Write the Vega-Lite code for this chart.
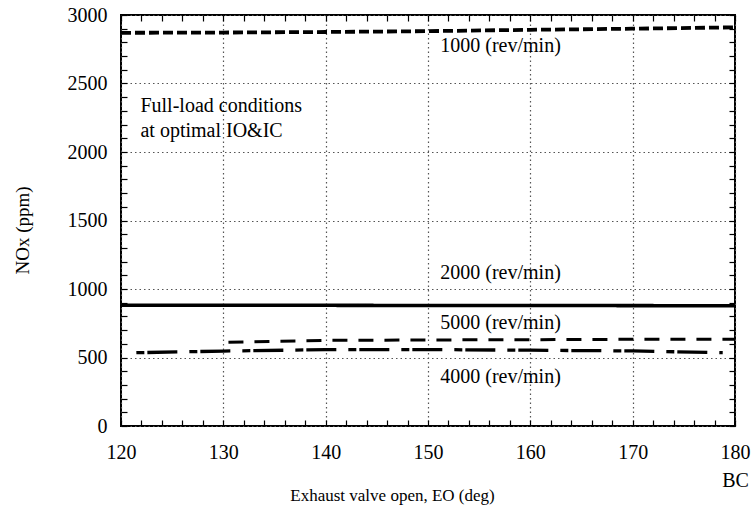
{
  "$schema": "https://vega.github.io/schema/vega-lite/v6.json",
  "autosize": "none",
  "width": 614,
  "height": 411,
  "padding": {"left": 121, "top": 15, "right": 16, "bottom": 87},
  "background": "white",
  "datasets": {
    "curves": [
      {"series": "1000", "eo": 120, "nox": 2870},
      {"series": "1000", "eo": 130, "nox": 2872},
      {"series": "1000", "eo": 140, "nox": 2876},
      {"series": "1000", "eo": 150, "nox": 2882},
      {"series": "1000", "eo": 160, "nox": 2892},
      {"series": "1000", "eo": 170, "nox": 2900},
      {"series": "1000", "eo": 180, "nox": 2910},
      {"series": "2000", "eo": 120, "nox": 882},
      {"series": "2000", "eo": 150, "nox": 880},
      {"series": "2000", "eo": 180, "nox": 878},
      {"series": "5000", "eo": 130.5, "nox": 612},
      {"series": "5000", "eo": 140, "nox": 625},
      {"series": "5000", "eo": 150, "nox": 628},
      {"series": "5000", "eo": 160, "nox": 630},
      {"series": "5000", "eo": 170, "nox": 633},
      {"series": "5000", "eo": 180, "nox": 634},
      {"series": "4000", "eo": 121.5, "nox": 535},
      {"series": "4000", "eo": 130, "nox": 547},
      {"series": "4000", "eo": 140, "nox": 557},
      {"series": "4000", "eo": 150, "nox": 558},
      {"series": "4000", "eo": 160, "nox": 553},
      {"series": "4000", "eo": 170, "nox": 548},
      {"series": "4000", "eo": 178.8, "nox": 535}
    ],
    "speedNotes": [
      {"eo": 151.2, "nox": 2774, "label": "1000 (rev/min)"},
      {"eo": 151.2, "nox": 1117, "label": "2000 (rev/min)"},
      {"eo": 151.2, "nox": 752, "label": "5000 (rev/min)"},
      {"eo": 151.2, "nox": 358, "label": "4000 (rev/min)"}
    ],
    "conditionNotes": [
      {"eo": 121.9, "nox": 2336, "label": "Full-load conditions"},
      {"eo": 121.9, "nox": 2153, "label": "at optimal IO&IC"}
    ]
  },
  "config": {
    "font": "Times New Roman, Liberation Serif, serif",
    "view": {"stroke": "black", "strokeWidth": 2},
    "axis": {
      "domain": false,
      "labelFont": "Times New Roman, Liberation Serif, serif",
      "labelFontSize": 20,
      "labelColor": "black",
      "titleFont": "Times New Roman, Liberation Serif, serif",
      "titleFontWeight": "normal",
      "titleColor": "black",
      "tickColor": "black",
      "tickWidth": 1.2,
      "tickSize": 6,
      "gridColor": "#555",
      "gridWidth": 1.2,
      "gridDash": [1.5, 3]
    },
    "text": {"font": "Times New Roman, Liberation Serif, serif"}
  },
  "layer": [
    {
      "data": {"name": "curves"},
      "mark": {"type": "line", "clip": true},
      "encoding": {
        "x": {
          "field": "eo",
          "type": "quantitative",
          "scale": {"domain": [120, 180], "nice": false, "zero": false},
          "axis": {
            "orient": "bottom",
            "title": "Exhaust valve open, EO (deg)",
            "titleFontSize": 17,
            "titleX": 271,
            "titleY": 69,
            "titleBaseline": "middle",
            "titleAlign": "center",
            "values": [120, 130, 140, 150, 160, 170, 180],
            "labelExpr": "datum.value === 180 ? ['180', 'BC'] : datum.label",
            "labelLineHeight": 28,
            "labelPadding": 16,
            "labelFlush": false,
            "labelOverlap": false,
            "ticks": false,
            "grid": true
          }
        },
        "y": {
          "field": "nox",
          "type": "quantitative",
          "scale": {"domain": [0, 3000], "nice": false, "zero": false},
          "axis": {
            "orient": "left",
            "title": "NOx (ppm)",
            "titleFontSize": 19,
            "titleX": -99,
            "titleY": 215,
            "titleBaseline": "middle",
            "titleAlign": "center",
            "format": "d",
            "values": [0, 500, 1000, 1500, 2000, 2500, 3000],
            "labelPadding": 14,
            "labelFlush": false,
            "labelOverlap": false,
            "ticks": false,
            "grid": true
          }
        },
        "color": {"field": "series", "type": "nominal", "scale": {"range": ["black"]}, "legend": null},
        "strokeDash": {
          "field": "series",
          "type": "nominal",
          "scale": {"domain": ["1000", "2000", "4000", "5000"], "range": [[10, 4], [1, 0], [8, 3, 30, 12], [15, 11]]},
          "legend": null
        },
        "strokeWidth": {
          "field": "series",
          "type": "nominal",
          "scale": {"domain": ["1000", "2000", "4000", "5000"], "range": [3.8, 3, 2.6, 2.6]},
          "legend": null
        }
      }
    },
    {
      "data": {"name": "speedNotes"},
      "mark": {"type": "text", "align": "left", "baseline": "middle", "fontSize": 20, "color": "black"},
      "encoding": {
        "x": {
          "field": "eo",
          "type": "quantitative",
          "scale": {"domain": [120, 180], "nice": false, "zero": false},
          "axis": {
            "orient": "bottom",
            "offset": -6,
            "title": null,
            "labels": false,
            "grid": false,
            "values": [120,122,124,126,128,130,132,134,136,138,140,142,144,146,148,150,152,154,156,158,160,162,164,166,168,170,172,174,176,178,180]
          }
        },
        "y": {
          "field": "nox",
          "type": "quantitative",
          "scale": {"domain": [0, 3000], "nice": false, "zero": false},
          "axis": {
            "orient": "left",
            "offset": -6,
            "title": null,
            "labels": false,
            "grid": false,
            "values": [0,100,200,300,400,500,600,700,800,900,1000,1100,1200,1300,1400,1500,1600,1700,1800,1900,2000,2100,2200,2300,2400,2500,2600,2700,2800,2900,3000]
          }
        },
        "text": {"field": "label", "type": "nominal"}
      }
    },
    {
      "data": {"name": "conditionNotes"},
      "mark": {"type": "text", "align": "left", "baseline": "middle", "fontSize": 20, "color": "black"},
      "encoding": {
        "x": {
          "field": "eo",
          "type": "quantitative",
          "scale": {"domain": [120, 180], "nice": false, "zero": false},
          "axis": {
            "orient": "top",
            "offset": -6,
            "title": null,
            "labels": false,
            "grid": false,
            "values": [120,122,124,126,128,130,132,134,136,138,140,142,144,146,148,150,152,154,156,158,160,162,164,166,168,170,172,174,176,178,180]
          }
        },
        "y": {
          "field": "nox",
          "type": "quantitative",
          "scale": {"domain": [0, 3000], "nice": false, "zero": false},
          "axis": {
            "orient": "right",
            "offset": -6,
            "title": null,
            "labels": false,
            "grid": false,
            "values": [0,100,200,300,400,500,600,700,800,900,1000,1100,1200,1300,1400,1500,1600,1700,1800,1900,2000,2100,2200,2300,2400,2500,2600,2700,2800,2900,3000]
          }
        },
        "text": {"field": "label", "type": "nominal"}
      }
    }
  ],
  "resolve": {"axis": {"x": "independent", "y": "independent"}}
}
